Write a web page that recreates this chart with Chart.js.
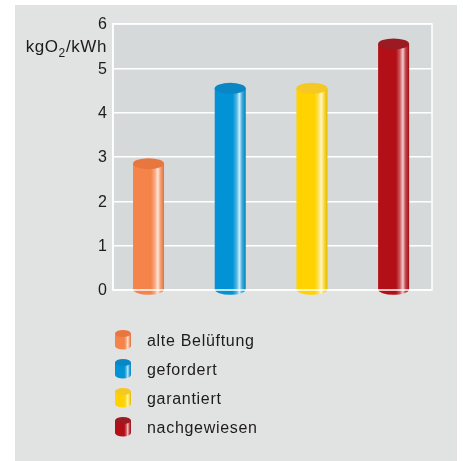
<!DOCTYPE html>
<html lang="de">
<head>
<meta charset="utf-8">
<title>Sauerstoffertrag</title>
<script src="https://cdn.jsdelivr.net/npm/chart.js@4.4.1/dist/chart.umd.min.js"></script>
<style>
  html, body { margin: 0; padding: 0; background: #fff; }
  #wrap { width: 463px; height: 461px; }
</style>
</head>
<body>
<div id="wrap"><canvas id="o2Chart"></canvas></div>
<script>
// Sauerstoffertrag je Belüftungsvariante
const categories = ['alte Belüftung', 'gefordert', 'garantiert', 'nachgewiesen'];
const values = [2.85, 4.55, 4.55, 5.55];
const yTicks = [0, 1, 2, 3, 4, 5, 6];
const unitParts = ['kgO', '2', '/kWh'];

// Mantel- und Deckelfarben der Zylinder
const bodyColors = ['#f5844a', '#0193d6', '#ffd200', '#b30f17'];
const capColors = ['#e8773f', '#0a86c4', '#f5c823', '#9c1b22'];

const textColor = '#1e1b1c';
const fontFamily = '"Liberation Sans", Arial, Helvetica, sans-serif';

function hexToRgb(hex) {
    const n = parseInt(hex.slice(1), 16);
    return [(n >> 16) & 255, (n >> 8) & 255, n & 255];
}

function mix(hex, other, t) {
    const a = hexToRgb(hex), b = hexToRgb(other);
    const c = a.map((v, i) => Math.round(v + (b[i] - v) * t));
    return `rgb(${c[0]}, ${c[1]}, ${c[2]})`;
}

// Zylinder mit Glanzstreifen zeichnen
function drawCylinder(ctx, cx, top, bottom, w, ry, body, cap) {
    const x0 = cx - w / 2, x1 = cx + w / 2;
    const g = ctx.createLinearGradient(x0, 0, x1, 0);
    g.addColorStop(0, body);
    g.addColorStop(0.58, body);
    g.addColorStop(0.7, mix(body, '#ffffff', 0.3));
    g.addColorStop(0.8, mix(body, '#ffffff', 0.8));
    g.addColorStop(0.88, mix(body, '#ffffff', 0.25));
    g.addColorStop(1, mix(body, '#000000', 0.12));

    ctx.save();
    ctx.fillStyle = g;
    ctx.beginPath();
    ctx.moveTo(x0, top);
    ctx.lineTo(x0, bottom);
    ctx.ellipse(cx, bottom, w / 2, ry, 0, Math.PI, 0, true);
    ctx.lineTo(x1, top);
    ctx.closePath();
    ctx.fill();

    ctx.fillStyle = cap;
    ctx.beginPath();
    ctx.ellipse(cx, top, w / 2, ry, 0, 0, Math.PI * 2);
    ctx.fill();
    ctx.restore();
}

// Hintergrundflächen: graues Feld und Diagrammbereich
const backgroundPlugin = {
    id: 'panelBackground',
    beforeDraw(chart) {
        const { ctx, chartArea: a } = chart;
        ctx.save();
        ctx.fillStyle = '#ffffff';
        ctx.fillRect(0, 0, chart.width, chart.height);
        ctx.fillStyle = '#e1e2e2';
        ctx.fillRect(15, 5, 442, 456);
        ctx.fillStyle = '#d6d9da';
        ctx.fillRect(a.left, a.top, a.right - a.left, a.bottom - a.top);
        ctx.restore();
    },
    afterDraw(chart) {
        const { ctx, chartArea: a } = chart;
        ctx.save();
        ctx.strokeStyle = '#ffffff';
        ctx.lineWidth = 1.5;
        ctx.strokeRect(a.left, a.top, a.right - a.left, a.bottom - a.top);
        ctx.restore();
    }
};

// Zylinder, Einheit und Legende
const cylinderPlugin = {
    id: 'cylinders',
    afterDatasetsDraw(chart) {
        const { ctx } = chart;
        const meta = chart.getDatasetMeta(0);
        meta.data.forEach((bar, i) => {
            drawCylinder(ctx, bar.x, bar.y, bar.base, bar.width, 5.5, bodyColors[i], capColors[i]);
        });

        // Einheit an der y-Achse
        ctx.save();
        ctx.fillStyle = textColor;
        ctx.textBaseline = 'alphabetic';
        ctx.letterSpacing = '0.6px';
        const big = `17px ${fontFamily}`, small = `12px ${fontFamily}`;
        ctx.font = big;
        const w0 = ctx.measureText(unitParts[0]).width;
        const w2 = ctx.measureText(unitParts[2]).width;
        ctx.font = small;
        const w1 = ctx.measureText(unitParts[1]).width;
        let x = 107 - (w0 + w1 + w2);
        ctx.font = big;
        ctx.fillText(unitParts[0], x, 52);
        x += w0;
        ctx.font = small;
        ctx.fillText(unitParts[1], x, 57);
        x += w1;
        ctx.font = big;
        ctx.fillText(unitParts[2], x, 52);

        // Legende
        ctx.font = `16px ${fontFamily}`;
        ctx.letterSpacing = '0.7px';
        categories.forEach((name, i) => {
            const base = 346 + i * 29;
            const cy = base - 6;
            drawCylinder(ctx, 123, cy - 6.5, cy + 6, 16, 3.5, bodyColors[i], capColors[i]);
            ctx.fillStyle = textColor;
            ctx.fillText(name, 147, base);
        });
        ctx.restore();
    }
};

const ctx = document.getElementById('o2Chart').getContext('2d');

new Chart(ctx, {
    type: 'bar',
    data: {
        datasets: [{
            label: 'Sauerstoffertrag',
            data: values.map((v, i) => ({ x: i, y: v })),
            backgroundColor: 'rgba(0, 0, 0, 0)',
            borderWidth: 0,
            barThickness: 31
        }]
    },
    options: {
        responsive: true,
        maintainAspectRatio: false,
        animation: false,
        layout: {
            padding: { left: 0, right: 31, top: 24, bottom: 171 }
        },
        plugins: {
            legend: { display: false },
            tooltip: { enabled: false }
        },
        scales: {
            x: {
                type: 'linear',
                display: false,
                offset: false,
                min: -0.435,
                max: 3.47
            },
            y: {
                min: yTicks[0],
                max: yTicks[yTicks.length - 1],
                afterFit(scale) { scale.width = 113; },
                afterBuildTicks(scale) {
                    scale.ticks = yTicks.map(v => ({ value: v }));
                },
                grid: {
                    color: '#ffffff',
                    lineWidth: 1.5,
                    drawTicks: false
                },
                border: { color: '#ffffff', width: 1.5 },
                ticks: {
                    padding: 6,
                    labelOffset: 1,
                    color: textColor,
                    font: { size: 16, family: fontFamily }
                }
            }
        }
    },
    plugins: [backgroundPlugin, cylinderPlugin]
});
</script>
</body>
</html>
